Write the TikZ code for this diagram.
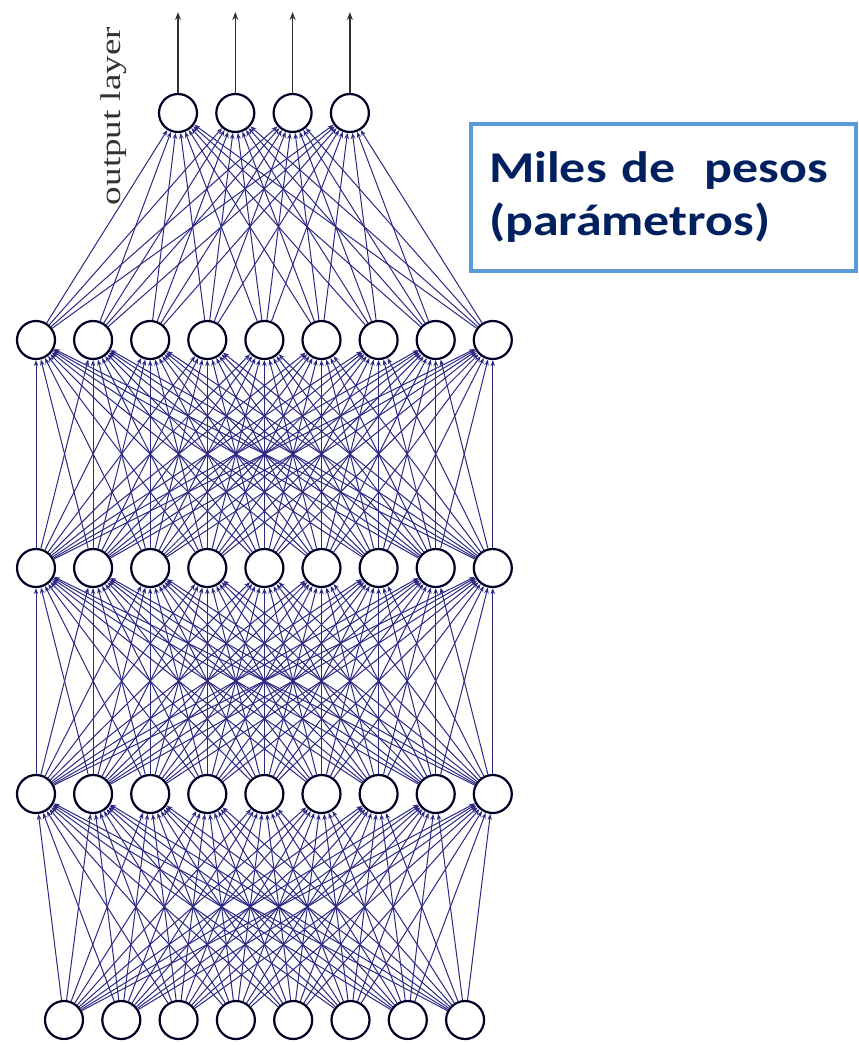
\documentclass[tikz,border=0pt]{standalone}
\usepackage{fontspec}
\newfontfamily\boxfont[FakeStretch=1.18]{Carlito}
\newfontfamily\labelfont[FakeStretch=1.3]{Liberation Serif}
\usetikzlibrary{arrows.meta}
\definecolor{netblue}{RGB}{45,40,130}
\definecolor{boxblue}{RGB}{91,155,213}
\definecolor{textnavy}{RGB}{0,32,96}

\begin{document}
\begin{tikzpicture}[x=1pt,y=-1pt,
    neuron/.style={circle,draw=black!85!blue,line width=2.2pt,minimum size=38pt,inner sep=0pt},
    wire/.style={draw=netblue,line width=1pt,-{Stealth[length=6pt,width=4.5pt]}}]
  \useasboundingbox (0,0) rectangle (859,1045);
  % layers
  \foreach \i in {1,...,4}
    \node[neuron] (out\i) at ({178+57.3*(\i-1)},113) {};
  \foreach \i in {1,...,9} {
    \node[neuron] (hA\i) at ({36+57.1*(\i-1)},340) {};
    \node[neuron] (hB\i) at ({36+57.1*(\i-1)},568) {};
    \node[neuron] (hC\i) at ({36+57.1*(\i-1)},794) {};}
  \foreach \i in {1,...,8}
    \node[neuron] (in\i) at ({64+57.3*(\i-1)},1020) {};
  % weights
  \foreach \j in {1,...,9} {
    \foreach \i in {1,...,4} \draw[wire] (hA\j) -- (out\i);
    \foreach \i in {1,...,9} {
      \draw[wire] (hB\j) -- (hA\i);
      \draw[wire] (hC\j) -- (hB\i);}
    \foreach \i in {1,...,8} \draw[wire] (in\i) -- (hC\j);}
  % outputs
  \foreach \i in {1,...,4} {
    \coordinate (top\i) at ({178+57.3*(\i-1)},12);
    \draw[line width=1.3pt,draw=black!80,-{Stealth[length=8pt,width=6pt]}] (out\i) -- (top\i);}

  \node[rotate=90,text=black!80,font=\labelfont\fontsize{28.5}{33}\selectfont] (lbl) at (114,116) {output layer};
  \node[draw=boxblue,line width=3.5pt,minimum width=385pt,minimum height=147pt,text width=349pt,inner xsep=18pt,
    align=left,text=textnavy,font=\boxfont\bfseries\fontsize{44}{53}\selectfont] (pesos) at (663.5,197.5)
    {Miles de\ \ pesos\\(parámetros)};
\end{tikzpicture}
\end{document}
